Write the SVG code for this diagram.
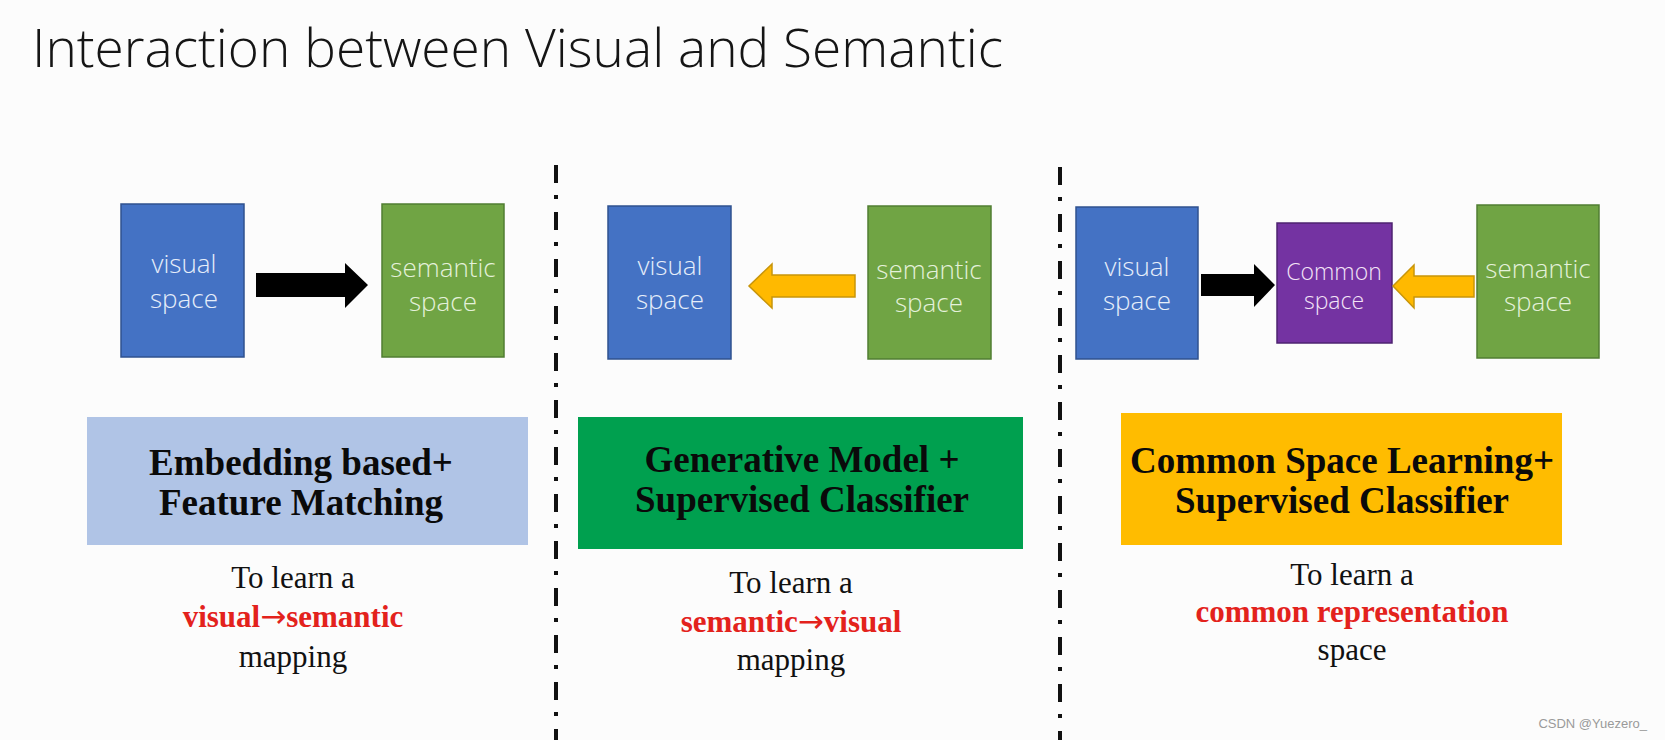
<svg xmlns="http://www.w3.org/2000/svg" width="1665" height="740" viewBox="0 0 1665 740">
<style>
.title{font-family:"Open Sans","Liberation Sans",Arial,sans-serif;font-weight:300;font-size:54px;fill:#151515;}
.lbl{font-family:"Open Sans","Liberation Sans",Arial,sans-serif;font-weight:300;font-size:26px;text-anchor:middle;}
.ban{font-family:"Liberation Serif","Times New Roman",serif;font-size:37px;font-weight:bold;fill:#0a0a0a;text-anchor:middle;}
.desc{font-family:"Liberation Serif","Times New Roman",serif;font-size:31px;fill:#111;text-anchor:middle;}
.red{font-weight:bold;fill:#e3221c;}
.arr{font-family:"DejaVu Sans",sans-serif;font-weight:normal;}
.vis{fill:#4472c4;stroke:#2f528f;stroke-width:1.5;}
.sem{fill:#70a444;stroke:#507e32;stroke-width:1.5;}
.com{fill:#7433a2;stroke:#4e2370;stroke-width:1.5;}
.sep{stroke:#111;stroke-width:4;stroke-dasharray:18 12 4 13;fill:none;}
.blk{fill:#000;}
.org{fill:#ffb900;stroke:#c8950a;stroke-width:1.5;stroke-linejoin:miter;}
</style>
<rect width="1665" height="740" fill="#fcfcfc"/>
<text class="title" x="32" y="67" textLength="971" lengthAdjust="spacingAndGlyphs">Interaction between Visual and Semantic</text>

<g id="separators">
<line class="sep" x1="556" y1="165" x2="556" y2="740"/>
<line class="sep" x1="1060" y1="167" x2="1060" y2="740"/>
</g>

<g id="p1-visual">
<rect class="vis" x="121" y="204" width="123" height="153"/>
<text class="lbl" fill="#e6eefa" x="184" y="273">visual</text>
<text class="lbl" fill="#e6eefa" x="184" y="308">space</text>
</g>
<g id="p1-semantic">
<rect class="sem" x="382" y="204" width="122" height="153"/>
<text class="lbl" fill="#e4f1da" x="443" y="277">semantic</text>
<text class="lbl" fill="#e4f1da" x="443" y="311">space</text>
</g>
<g id="p2-visual">
<rect class="vis" x="608" y="206" width="123" height="153"/>
<text class="lbl" fill="#e6eefa" x="670" y="275">visual</text>
<text class="lbl" fill="#e6eefa" x="670" y="309">space</text>
</g>
<g id="p2-semantic">
<rect class="sem" x="868" y="206" width="123" height="153"/>
<text class="lbl" fill="#e4f1da" x="929" y="279">semantic</text>
<text class="lbl" fill="#e4f1da" x="929" y="312">space</text>
</g>
<g id="p3-visual">
<rect class="vis" x="1076" y="207" width="122" height="152"/>
<text class="lbl" fill="#e6eefa" x="1137" y="276">visual</text>
<text class="lbl" fill="#e6eefa" x="1137" y="310">space</text>
</g>
<g id="p3-common">
<rect class="com" x="1277" y="223" width="115" height="120"/>
<text class="lbl" fill="#f3e4f7" x="1334" y="280" style="font-size:23px">Common</text>
<text class="lbl" fill="#f3e4f7" x="1334" y="309" style="font-size:23px">space</text>
</g>
<g id="p3-semantic">
<rect class="sem" x="1477" y="205" width="122" height="153"/>
<text class="lbl" fill="#e4f1da" x="1538" y="278">semantic</text>
<text class="lbl" fill="#e4f1da" x="1538" y="311">space</text>
</g>

<g id="connectors">
<polygon class="blk" points="256,273 345,273 345,263 368,285 345,308 345,297 256,297"/>
<polygon class="org" points="855,275 772,275 772,264 749,286 772,308 772,297 855,297"/>
<polygon class="blk" points="1201,274 1254,274 1254,264 1275,285 1254,307 1254,296 1201,296"/>
<polygon class="org" points="1474,276 1414,276 1414,265 1393,286 1414,308 1414,297 1474,297"/>
</g>

<g id="p1-banner">
<rect x="87" y="417" width="441" height="128" fill="#b0c4e6"/>
<text class="ban" x="301" y="475">Embedding based+</text>
<text class="ban" x="301" y="515">Feature Matching</text>
</g>
<g id="p1-desc">
<text class="desc" x="293" y="588">To learn a</text>
<text class="desc red" x="293" y="627">visual<tspan class="arr">→</tspan>semantic</text>
<text class="desc" x="293" y="667">mapping</text>
</g>

<g id="p2-banner">
<rect x="578" y="417" width="445" height="132" fill="#00a04f"/>
<text class="ban" x="802" y="472">Generative Model +</text>
<text class="ban" x="802" y="512">Supervised Classifier</text>
</g>
<g id="p2-desc">
<text class="desc" x="791" y="593">To learn a</text>
<text class="desc red" x="791" y="632">semantic<tspan class="arr">→</tspan>visual</text>
<text class="desc" x="791" y="670">mapping</text>
</g>

<g id="p3-banner">
<rect x="1121" y="413" width="441" height="132" fill="#ffbc00"/>
<text class="ban" x="1342" y="473">Common Space Learning+</text>
<text class="ban" x="1342" y="513">Supervised Classifier</text>
</g>
<g id="p3-desc">
<text class="desc" x="1352" y="585">To learn a</text>
<text class="desc red" x="1352" y="622">common representation</text>
<text class="desc" x="1352" y="660">space</text>
</g>

<text x="1647" y="728" style="font-family:'Liberation Sans',Arial,sans-serif;font-size:13px;fill:#9a9a9a;text-anchor:end">CSDN @Yuezero_</text>
</svg>
